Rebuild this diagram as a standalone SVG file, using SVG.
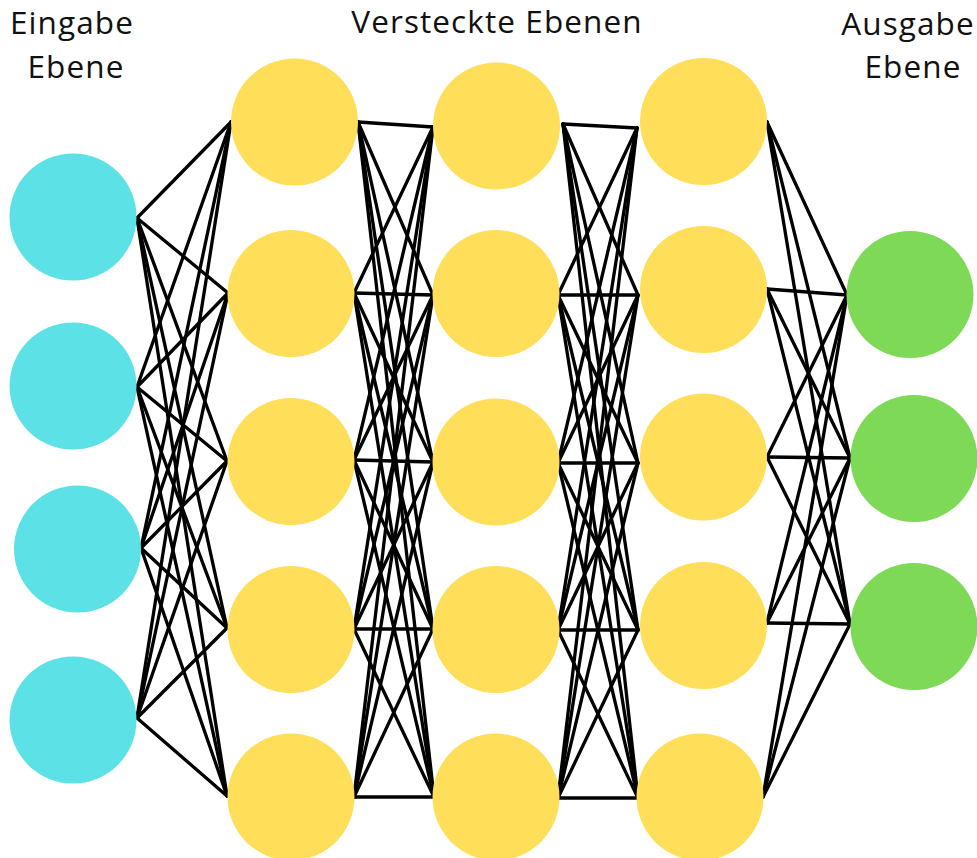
<svg xmlns="http://www.w3.org/2000/svg" width="977" height="858" viewBox="0 0 977 858">
  <style>
    .edge { stroke: #000; stroke-width: 3.3; stroke-linecap: round; }
    .input { fill: #5CE1E6; }
    .hidden { fill: #FFDE59; }
    .output { fill: #7ED957; }
    .label { font-family: "Open Sans", "Liberation Sans", sans-serif; font-size: 31.5px; letter-spacing: 1.1px; fill: #111; text-anchor: middle; }
  </style>
  <rect width="977" height="858" fill="#fff"/>

  <!-- connectors: fully connected between neighbouring layers -->
  <g id="connectors" class="edge">
    <!-- input -> hidden 1 -->
    <line x1="137" y1="218" x2="231" y2="122"/>
    <line x1="137" y1="218" x2="228" y2="293"/>
    <line x1="137" y1="218" x2="227" y2="461"/>
    <line x1="137" y1="218" x2="227" y2="628"/>
    <line x1="137" y1="218" x2="227" y2="796"/>
    <line x1="137" y1="387" x2="231" y2="122"/>
    <line x1="137" y1="387" x2="228" y2="293"/>
    <line x1="137" y1="387" x2="227" y2="461"/>
    <line x1="137" y1="387" x2="227" y2="628"/>
    <line x1="137" y1="387" x2="227" y2="796"/>
    <line x1="141" y1="548" x2="231" y2="122"/>
    <line x1="141" y1="548" x2="228" y2="293"/>
    <line x1="141" y1="548" x2="227" y2="461"/>
    <line x1="141" y1="548" x2="227" y2="628"/>
    <line x1="141" y1="548" x2="227" y2="796"/>
    <line x1="137" y1="718" x2="231" y2="122"/>
    <line x1="137" y1="718" x2="228" y2="293"/>
    <line x1="137" y1="718" x2="227" y2="461"/>
    <line x1="137" y1="718" x2="227" y2="628"/>
    <line x1="137" y1="718" x2="227" y2="796"/>
    <!-- hidden 1 -> hidden 2 -->
    <line x1="358" y1="122" x2="433" y2="127"/>
    <line x1="358" y1="122" x2="433" y2="295"/>
    <line x1="358" y1="122" x2="433" y2="462"/>
    <line x1="358" y1="122" x2="433" y2="629"/>
    <line x1="358" y1="122" x2="434" y2="797"/>
    <line x1="354" y1="293" x2="433" y2="127"/>
    <line x1="354" y1="293" x2="433" y2="295"/>
    <line x1="354" y1="293" x2="433" y2="462"/>
    <line x1="354" y1="293" x2="433" y2="629"/>
    <line x1="354" y1="293" x2="434" y2="797"/>
    <line x1="354" y1="460" x2="433" y2="127"/>
    <line x1="354" y1="460" x2="433" y2="295"/>
    <line x1="354" y1="460" x2="433" y2="462"/>
    <line x1="354" y1="460" x2="433" y2="629"/>
    <line x1="354" y1="460" x2="434" y2="797"/>
    <line x1="354" y1="629" x2="433" y2="127"/>
    <line x1="354" y1="629" x2="433" y2="295"/>
    <line x1="354" y1="629" x2="433" y2="462"/>
    <line x1="354" y1="629" x2="433" y2="629"/>
    <line x1="354" y1="629" x2="434" y2="797"/>
    <line x1="354" y1="797" x2="433" y2="127"/>
    <line x1="354" y1="797" x2="433" y2="295"/>
    <line x1="354" y1="797" x2="433" y2="462"/>
    <line x1="354" y1="797" x2="433" y2="629"/>
    <line x1="354" y1="797" x2="434" y2="797"/>
    <!-- hidden 2 -> hidden 3 -->
    <line x1="563" y1="124" x2="637" y2="128"/>
    <line x1="563" y1="124" x2="638" y2="295"/>
    <line x1="563" y1="124" x2="638" y2="463"/>
    <line x1="563" y1="124" x2="638" y2="630"/>
    <line x1="563" y1="124" x2="638" y2="798"/>
    <line x1="558" y1="295" x2="637" y2="128"/>
    <line x1="558" y1="295" x2="638" y2="295"/>
    <line x1="558" y1="295" x2="638" y2="463"/>
    <line x1="558" y1="295" x2="638" y2="630"/>
    <line x1="558" y1="295" x2="638" y2="798"/>
    <line x1="558" y1="463" x2="637" y2="128"/>
    <line x1="558" y1="463" x2="638" y2="295"/>
    <line x1="558" y1="463" x2="638" y2="463"/>
    <line x1="558" y1="463" x2="638" y2="630"/>
    <line x1="558" y1="463" x2="638" y2="798"/>
    <line x1="558" y1="630" x2="637" y2="128"/>
    <line x1="558" y1="630" x2="638" y2="295"/>
    <line x1="558" y1="630" x2="638" y2="463"/>
    <line x1="558" y1="630" x2="638" y2="630"/>
    <line x1="558" y1="630" x2="638" y2="798"/>
    <line x1="558" y1="798" x2="637" y2="128"/>
    <line x1="558" y1="798" x2="638" y2="295"/>
    <line x1="558" y1="798" x2="638" y2="463"/>
    <line x1="558" y1="798" x2="638" y2="630"/>
    <line x1="558" y1="798" x2="638" y2="798"/>
    <!-- hidden 3 -> output -->
    <line x1="767" y1="122" x2="847" y2="295"/>
    <line x1="767" y1="122" x2="850" y2="458"/>
    <line x1="767" y1="122" x2="850" y2="624"/>
    <line x1="767" y1="289" x2="847" y2="295"/>
    <line x1="767" y1="289" x2="850" y2="458"/>
    <line x1="767" y1="289" x2="850" y2="624"/>
    <line x1="767" y1="457" x2="847" y2="295"/>
    <line x1="767" y1="457" x2="850" y2="458"/>
    <line x1="767" y1="457" x2="850" y2="624"/>
    <line x1="767" y1="623" x2="847" y2="295"/>
    <line x1="767" y1="623" x2="850" y2="458"/>
    <line x1="767" y1="623" x2="850" y2="624"/>
    <line x1="763" y1="797" x2="847" y2="295"/>
    <line x1="763" y1="797" x2="850" y2="458"/>
    <line x1="763" y1="797" x2="850" y2="624"/>
  </g>

  <!-- input layer -->
  <g id="in1"><circle class="input" cx="73" cy="217" r="63.5"/></g>
  <g id="in2"><circle class="input" cx="73" cy="386" r="63.5"/></g>
  <g id="in3"><circle class="input" cx="77.5" cy="549" r="63.5"/></g>
  <g id="in4"><circle class="input" cx="73" cy="720" r="63.5"/></g>

  <!-- hidden layer 1 -->
  <g id="h1_1"><circle class="hidden" cx="294.5" cy="122" r="63.5"/></g>
  <g id="h1_2"><circle class="hidden" cx="291" cy="293.5" r="63.5"/></g>
  <g id="h1_3"><circle class="hidden" cx="291" cy="461.5" r="63.5"/></g>
  <g id="h1_4"><circle class="hidden" cx="291" cy="629.5" r="63.5"/></g>
  <g id="h1_5"><circle class="hidden" cx="291" cy="797" r="63.5"/></g>

  <!-- hidden layer 2 -->
  <g id="h2_1"><circle class="hidden" cx="496.5" cy="126" r="63.5"/></g>
  <g id="h2_2"><circle class="hidden" cx="496" cy="293.5" r="63.5"/></g>
  <g id="h2_3"><circle class="hidden" cx="496" cy="462" r="63.5"/></g>
  <g id="h2_4"><circle class="hidden" cx="496" cy="629.5" r="63.5"/></g>
  <g id="h2_5"><circle class="hidden" cx="496" cy="797" r="63.5"/></g>

  <!-- hidden layer 3 -->
  <g id="h3_1"><circle class="hidden" cx="703.5" cy="121.5" r="63.5"/></g>
  <g id="h3_2"><circle class="hidden" cx="703.5" cy="289.5" r="63.5"/></g>
  <g id="h3_3"><circle class="hidden" cx="703.5" cy="457" r="63.5"/></g>
  <g id="h3_4"><circle class="hidden" cx="703.5" cy="625.5" r="63.5"/></g>
  <g id="h3_5"><circle class="hidden" cx="700" cy="797" r="63.5"/></g>

  <!-- output layer -->
  <g id="out1"><circle class="output" cx="910" cy="294.5" r="63.5"/></g>
  <g id="out2"><circle class="output" cx="914" cy="458.5" r="63.5"/></g>
  <g id="out3"><circle class="output" cx="914" cy="626.5" r="63.5"/></g>

  <!-- layer titles -->
  <g id="labels" class="label">
    <text x="72" y="34">Eingabe</text>
    <text x="76" y="78">Ebene</text>
    <text x="497" y="33">Versteckte Ebenen</text>
    <text x="908" y="35">Ausgabe</text>
    <text x="913" y="78">Ebene</text>
  </g>
</svg>
